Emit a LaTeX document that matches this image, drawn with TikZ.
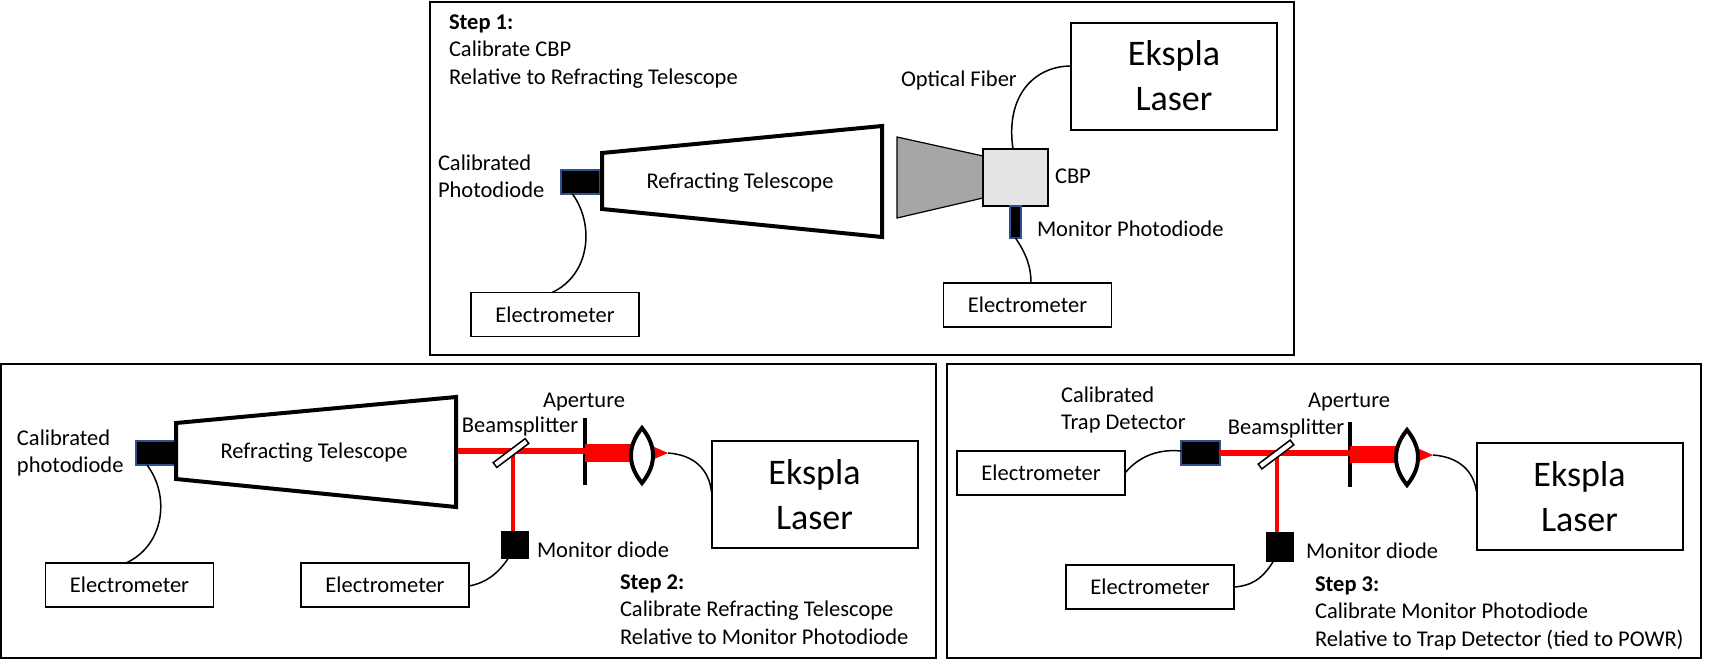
\documentclass[tikz,border=0pt]{standalone}
\usepackage{fontspec}
\setmainfont{Carlito}
\usetikzlibrary{calc}
\definecolor{beamred}{HTML}{FF0000}
\definecolor{pdblue}{HTML}{2F528F}
\definecolor{conegray}{HTML}{A6A6A6}
\definecolor{cbpgray}{HTML}{E4E4E4}
\newcommand\txtfont{\fontsize{11.25pt}{13.75pt}\selectfont}
\newcommand\lasfont{\fontsize{18pt}{22.5pt}\selectfont}
\begin{document}
\begin{tikzpicture}[x=0.5pt,y=-0.5pt,
  every node/.style={inner sep=0pt, outer sep=0pt, font=\txtfont},
  frame/.style={draw, line width=1pt},
  ebox/.style={draw, line width=0.85pt, minimum width=84pt, minimum height=22pt, font=\txtfont},
  lbox/.style={draw, line width=1pt, minimum width=103pt, minimum height=53.5pt, align=center, font=\lasfont},
  pdbox/.style={draw=pdblue, fill=black, line width=0.9pt},
  mdbox/.style={fill=black, draw=black, line width=0.4pt},
  cable/.style={draw, line width=0.75pt},
  tele/.style={draw, line width=2pt, line join=miter},
  beam/.style={draw=beamred, line width=3pt},
  vbeam/.style={draw=beamred, line width=2pt},
  apert/.style={draw, line width=2pt},
  lens/.style={draw, line width=2pt, fill=white},
  splitter/.style={draw, line width=0.75pt, fill=white},
  lbl/.style={font=\txtfont},
  block/.style={anchor=north west, align=left, font=\txtfont}
]
\useasboundingbox (0,0) rectangle (1715,665);

% ================= TOP PANEL =================
\draw[frame] (430,2) rectangle (1294,355);
\node[block] (s1) at (449,14.7) {\textbf{Step 1:}\\Calibrate CBP\\Relative to Refracting Telescope};
\node[block] (cal1) at (438,154.5) {Calibrated\\Photodiode};
\node[pdbox, minimum width=19.5pt, minimum height=12pt] (pd1) at (580.5,182) {};
\draw[tele] (602,153) -- (882,126) -- (882,237) -- (602,209) -- cycle;
\node[anchor=base] (rt1) at (740,188) {Refracting Telescope};
\node[ebox] (el1) at (555,314.5) {Electrometer};
\draw[cable] ($(pd1.south)+(-8,0)$) .. controls (595,225) and (590,275) .. ($(el1.north)+(-3,0)$);

\draw[fill=conegray, line width=0.6pt] (897,137) -- (983,156) -- (983,198) -- (897,218) -- cycle;
\node[draw, fill=cbpgray, line width=1pt, minimum width=32.5pt, minimum height=28.5pt] (cbp) at (1015.5,177.5) {};
\node[anchor=base west] (cbpl) at (1055,183) {CBP};
\node[pdbox, minimum width=5.5pt, minimum height=16pt] (mpd) at (1015.5,222) {};
\node[anchor=base west] (mpdl) at (1037,236) {Monitor Photodiode};
\node[ebox] (el2) at (1027.5,305) {Electrometer};
\draw[cable] (mpd.south) .. controls (1025,252) and (1031,265) .. ($(el2.north)+(3.5,0)$);
\node[lbox] (las1) at (1174,76) {Ekspla\\Laser};
\draw[cable] ($(cbp.north)+(-2.5,0)$) .. controls (1005,95) and (1035,66) .. ($(las1.west)+(0,-10)$);
\node[anchor=base west] (of) at (901,86) {Optical Fiber};

% ================= LOWER LEFT PANEL =================
\draw[frame] (1,364) rectangle (936,658);
\node[block] (cal2) at (17,429.5) {Calibrated\\photodiode};
\node[pdbox, minimum width=19.5pt, minimum height=12pt] (pd2) at (155.5,453) {};
\draw[tele] (176,423) -- (456,397) -- (456,507) -- (176,479) -- cycle;
\node[anchor=base] (rt2) at (314,458) {Refracting Telescope};
\node[ebox] (el3) at (129.5,585) {Electrometer};
\draw[cable] ($(pd2.south)+(-8.5,0)$) .. controls (170,495) and (165,545) .. ($(el3.north)+(-3.5,0)$);
\node[ebox] (el4) at (385,585) {Electrometer};

\draw[apert] (585,418) -- (585,485);
\draw[beam] (458,451) -- (587,451);
\draw[vbeam] (513,452) -- (513,532);
\node[mdbox, minimum width=13.5pt, minimum height=13.5pt] (md2) at (514.5,544.5) {};
\fill[beamred] (585,444) rectangle (642,462);
\fill[beamred] (645,443) -- (668,453) -- (645,463) -- cycle;
\draw[lens] (642,428) .. controls (627.3,446) and (627.3,465) .. (642,483) .. controls (656.7,465) and (656.7,446) .. (642,428) -- cycle;
\draw[splitter] (493.2,462.6) -- (525.2,438.6) -- (528.8,443.4) -- (496.8,467.4) -- cycle;
\node[lbox] (las2) at (814.5,494.5) {Ekspla\\Laser};
\coordinate (apx2) at (668,453);
\draw[cable] (apx2) .. controls (695,455) and (709,470) .. ($(las2.west)+(0,-2.5)$);
\node[anchor=base] (bs2) at (520,432) {Beamsplitter};
\node[anchor=base] (ap2) at (584,407) {Aperture};
\node[anchor=base west] (mdl2) at (537,557) {Monitor diode};
\draw[cable] ($(md2.south)+(-6,0)$) .. controls (497,575) and (485,583) .. ($(el4.east)+(0,1)$);
\node[block] (s2) at (620,574.5) {\textbf{Step 2:}\\Calibrate Refracting Telescope\\Relative to Monitor Photodiode};

% ================= LOWER RIGHT PANEL =================
\draw[frame] (947,364) rectangle (1701,658);
\node[block] (cal3) at (1061,386.5) {Calibrated\\Trap Detector};
\node[ebox] (el5) at (1041,473) {Electrometer};
\node[pdbox, minimum width=19.5pt, minimum height=12pt] (td) at (1200.5,453) {};
\draw[cable] (el5.east) .. controls (1140,455) and (1160,449) .. ($(td.west)+(0,-2)$);
\draw[apert] (1350,422) -- (1350,487);
\draw[beam] (td.east) -- (1352,453);
\draw[vbeam] (1277,454) -- (1277,533);
\node[mdbox, minimum width=13.5pt, minimum height=14.5pt] (md3) at (1279.5,546.5) {};
\fill[beamred] (1350,446) rectangle (1407,463);
\fill[beamred] (1410,445) -- (1433,455) -- (1410,465) -- cycle;
\draw[lens] (1407,430) .. controls (1392.3,448) and (1392.3,467) .. (1407,485) .. controls (1421.7,467) and (1421.7,448) .. (1407,430) -- cycle;
\draw[splitter] (1258.2,464.1) -- (1290.2,440.1) -- (1293.8,444.9) -- (1261.8,468.9) -- cycle;
\node[lbox] (las3) at (1579.5,496.5) {Ekspla\\Laser};
\coordinate (apx3) at (1433,455);
\draw[cable] (apx3) .. controls (1460,457) and (1474,472) .. ($(las3.west)+(0,-4.5)$);
\node[ebox] (el6) at (1150,587) {Electrometer};
\draw[cable] ($(md3.south)+(-6,0)$) .. controls (1262,580) and (1250,586) .. (el6.east);
\node[anchor=base] (bs3) at (1286,434) {Beamsplitter};
\node[anchor=base] (ap3) at (1349,407) {Aperture};
\node[anchor=base west] (mdl3) at (1306,558) {Monitor diode};
\node[block] (s3) at (1315,576.5) {\textbf{Step 3:}\\Calibrate Monitor Photodiode\\Relative to Trap Detector (tied to POWR)};
\end{tikzpicture}
\end{document}
